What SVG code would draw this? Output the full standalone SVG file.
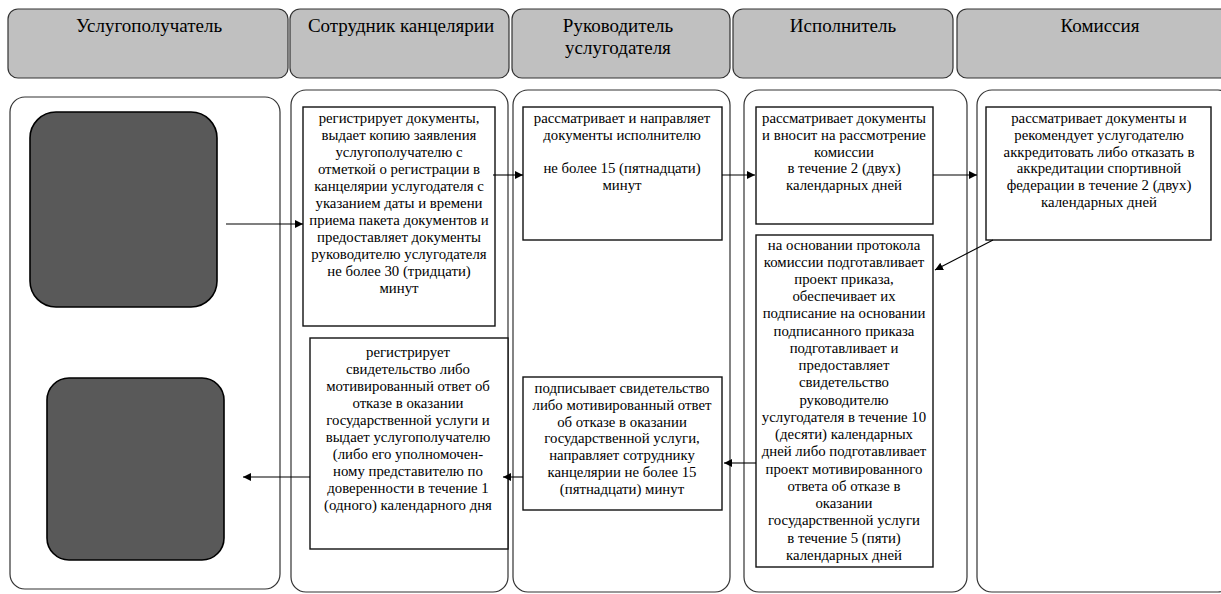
<svg xmlns="http://www.w3.org/2000/svg" width="1221" height="594" viewBox="0 0 1221 594">
<defs>
<marker id="ah" viewBox="0 0 10 10" refX="10" refY="5" markerWidth="8" markerHeight="8" markerUnits="userSpaceOnUse" orient="auto"><path d="M0,0 L10,5 L0,10 z" fill="#000"/></marker>
<style>
.hdr{fill:#c0c0c0;stroke:#333;stroke-width:1.2}
.lane{fill:#fff;stroke:#333;stroke-width:1.2}
.box{fill:#fff;stroke:#111;stroke-width:1.4}
.dark{fill:#595959;stroke:#000;stroke-width:1.6}
text{font-family:'Liberation Serif','Times New Roman',serif;fill:#000;text-anchor:middle}
.ht{font-size:19px}
.t{font-size:14.8px}
.c{stroke:#000;stroke-width:1.1;fill:none;marker-end:url(#ah)}
</style>
</defs>
<rect width="1221" height="594" fill="#fff"/>
<g id="headers">
<g id="h1"><rect class="hdr" x="8" y="9" width="280" height="69" rx="10"/><text class="ht" x="149" y="32">Услугополучатель</text></g>
<g id="h2"><rect class="hdr" x="290" y="9" width="219" height="69" rx="10"/><text class="ht" x="401" y="32">Сотрудник канцелярии</text></g>
<g id="h3"><rect class="hdr" x="512" y="9" width="218" height="69" rx="10"/><text class="ht" x="618" y="32">Руководитель</text><text class="ht" x="618" y="54">услугодателя</text></g>
<g id="h4"><rect class="hdr" x="733" y="9" width="220" height="69" rx="10"/><text class="ht" x="843" y="32">Исполнитель</text></g>
<g id="h5"><rect class="hdr" x="957" y="9" width="280" height="69" rx="10"/><text class="ht" x="1100" y="32">Комиссия</text></g>
</g>
<g id="lanes">
<rect class="lane" x="10" y="97" width="270" height="492" rx="15"/>
<rect class="lane" x="291" y="90" width="217" height="502" rx="15"/>
<rect class="lane" x="513" y="90" width="217" height="502" rx="15"/>
<rect class="lane" x="744" y="90" width="223" height="502" rx="15"/>
<rect class="lane" x="977" y="90" width="256" height="502" rx="15"/>
</g>
<g id="n_start"><rect class="dark" x="30" y="112" width="187" height="195" rx="26"/></g>
<g id="n_end"><rect class="dark" x="47" y="378" width="177" height="182" rx="22"/></g>
<g id="n_reg">
<rect class="box" x="303" y="107" width="192" height="219"/>
<text class="t" x="399" y="123">регистрирует документы,</text>
<text class="t" x="399" y="140">выдает копию заявления</text>
<text class="t" x="399" y="157">услугополучателю с</text>
<text class="t" x="399" y="174">отметкой о  регистрации в</text>
<text class="t" x="399" y="191">канцелярии услугодателя с</text>
<text class="t" x="399" y="208">указанием даты и времени</text>
<text class="t" x="399" y="225">приема пакета документов и</text>
<text class="t" x="399" y="242">предоставляет  документы</text>
<text class="t" x="399" y="259">руководителю услугодателя</text>
<text class="t" x="399" y="276">не более 30 (тридцати)</text>
<text class="t" x="399" y="293">минут</text>
</g>
<g id="n_head1">
<rect class="box" x="523" y="107" width="199" height="133"/>
<text class="t" x="622" y="123">рассматривает и направляет</text>
<text class="t" x="622" y="140">документы исполнителю</text>
<text class="t" x="622" y="173">не более 15 (пятнадцати)</text>
<text class="t" x="622" y="190">минут</text>
</g>
<g id="n_exec1">
<rect class="box" x="756" y="107" width="177" height="117"/>
<text class="t" x="844" y="123">рассматривает документы</text>
<text class="t" x="844" y="140">и вносит на рассмотрение</text>
<text class="t" x="844" y="157">комиссии</text>
<text class="t" x="844" y="173">в течение 2 (двух)</text>
<text class="t" x="844" y="190">календарных дней</text>
</g>
<g id="n_comm">
<rect class="box" x="986" y="107" width="225" height="133"/>
<text class="t" x="1099" y="123">рассматривает документы и</text>
<text class="t" x="1099" y="140">рекомендует услугодателю</text>
<text class="t" x="1099" y="157">аккредитовать  либо отказать в</text>
<text class="t" x="1099" y="173">аккредитации  спортивной</text>
<text class="t" x="1099" y="190">федерации в течение 2 (двух)</text>
<text class="t" x="1099" y="207">календарных дней</text>
</g>
<g id="n_exec2">
<rect class="box" x="756" y="235" width="177" height="332"/>
<text class="t" x="844" y="250">на основании протокола</text>
<text class="t" x="844" y="267">комиссии подготавливает</text>
<text class="t" x="844" y="284">проект приказа,</text>
<text class="t" x="844" y="301">обеспечивает их</text>
<text class="t" x="844" y="318">подписание на основании</text>
<text class="t" x="844" y="336">подписанного  приказа</text>
<text class="t" x="844" y="353">подготавливает и</text>
<text class="t" x="844" y="370">предоставляет</text>
<text class="t" x="844" y="387">свидетельство</text>
<text class="t" x="844" y="405">руководителю</text>
<text class="t" x="844" y="422">услугодателя в течение  10</text>
<text class="t" x="844" y="439">(десяти) календарных</text>
<text class="t" x="844" y="456">дней либо подготавливает</text>
<text class="t" x="844" y="474">проект мотивированного</text>
<text class="t" x="844" y="491">ответа об отказе  в</text>
<text class="t" x="844" y="508">оказании</text>
<text class="t" x="844" y="525">государственной  услуги</text>
<text class="t" x="844" y="543">в течение 5 (пяти)</text>
<text class="t" x="844" y="560">календарных дней</text>
</g>
<g id="n_head2">
<rect class="box" x="523" y="377" width="199" height="133"/>
<text class="t" x="622" y="393">подписывает свидетельство</text>
<text class="t" x="622" y="410">либо мотивированный ответ</text>
<text class="t" x="622" y="427">об отказе в  оказании</text>
<text class="t" x="622" y="443">государственной услуги,</text>
<text class="t" x="622" y="460">направляет  сотруднику</text>
<text class="t" x="622" y="477">канцелярии не более 15</text>
<text class="t" x="622" y="494">(пятнадцати)  минут</text>
</g>
<g id="n_reg2">
<rect class="box" x="310" y="338" width="198" height="211"/>
<text class="t" x="408" y="357">регистрирует</text>
<text class="t" x="408" y="374">свидетельство либо</text>
<text class="t" x="408" y="391">мотивированный ответ об</text>
<text class="t" x="408" y="408">отказе в оказании</text>
<text class="t" x="408" y="425">государственной услуги и</text>
<text class="t" x="408" y="442">выдает услугополучателю</text>
<text class="t" x="408" y="459">(либо его уполномочен-</text>
<text class="t" x="408" y="476">ному  представителю по</text>
<text class="t" x="408" y="493">доверенности в течение 1</text>
<text class="t" x="408" y="510">(одного) календарного дня</text>
</g>
<g id="connectors">
<line class="c" x1="226" y1="224" x2="303" y2="224"/>
<line class="c" x1="493" y1="175" x2="523" y2="175"/>
<line class="c" x1="722" y1="175" x2="755" y2="175"/>
<line class="c" x1="933" y1="175" x2="977" y2="175"/>
<line class="c" x1="993" y1="240" x2="935" y2="270"/>
<line class="c" x1="756" y1="463" x2="724" y2="463"/>
<line class="c" x1="523" y1="477" x2="503" y2="477"/>
<line class="c" x1="310" y1="477" x2="243" y2="477"/>
</g>
</svg>
